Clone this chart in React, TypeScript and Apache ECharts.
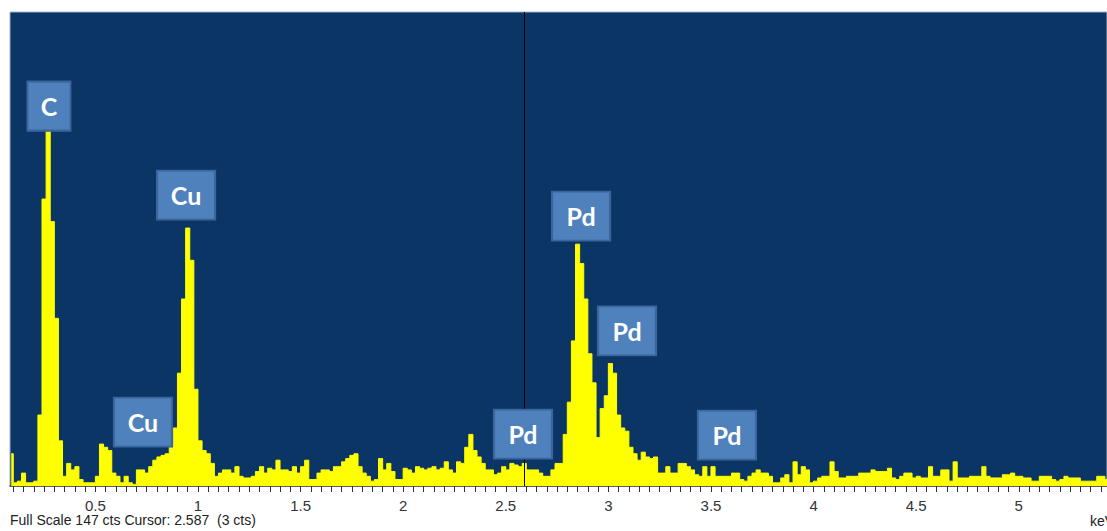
import React, { useEffect, useRef } from "react";
import * as echarts from "echarts";

// EDS spectrum: channel counts (cts), 0.02 keV channels starting at 0.09 keV
const ENERGY_START = 0.09;
const CHANNEL_WIDTH = 0.02;
const COUNTS = [
  10, 1, 1.5, 4, 1, 1, 1.5, 22, 89, 110,
  82, 52, 14, 3, 7, 5, 6, 2, 1, 1,
  1, 3, 13, 12, 11, 4, 3, 1, 3, 1,
  0.5, 5, 5, 4, 6, 8, 9, 9.5, 10, 12,
  18, 35, 58, 80, 70, 30, 14, 11, 10, 7,
  3, 4, 5, 5, 4, 6, 3, 2.5, 2.5, 3,
  4.5, 6, 4, 5.5, 5, 8, 5, 5, 4.5, 6,
  4, 6, 8, 2, 2, 4, 5, 5, 4.5, 6,
  6, 7.5, 8.5, 9.5, 10, 6, 4, 3, 1.5, 2,
  8.5, 5, 7, 4.5, 2, 2, 5.5, 5, 4, 6,
  5.5, 5, 5.5, 6, 5, 5.5, 7.5, 5, 4, 7.5,
  7, 12, 16, 11, 9, 7, 5, 5, 3.5, 4,
  6, 5, 7, 6.5, 6, 7, 5, 5, 5, 4,
  3, 3, 5, 7, 7, 16, 26, 45, 75, 69,
  58, 41, 32, 15, 24, 28, 38, 35, 22, 18,
  17, 12, 10, 8, 10.5, 9, 8.5, 9, 4, 4,
  6, 4, 4, 7, 7, 6, 5, 3.5, 3, 6,
  3, 6, 3, 3, 3, 3, 4, 4, 2, 1.5,
  3, 4, 5, 4, 4, 3, 1, 1, 2.5, 3.5,
  1, 7.5, 3.5, 6, 5, 1, 1.5, 2.5, 3, 3,
  7.5, 4.5, 2.5, 2.5, 3, 3, 3, 4, 4, 4,
  5, 4.5, 4.5, 4.5, 5.5, 2.5, 2, 3, 4, 4,
  2.5, 3, 2.5, 2.5, 6, 3, 3, 5, 5, 1.5,
  7.5, 2.5, 2.5, 2.5, 3, 3, 3, 6, 3, 2.5,
  2.5, 2.5, 3.5, 3.5, 4, 3, 3, 2.5, 2.5, 1.5,
  1.5, 3, 3, 3, 2, 1.5, 2, 3, 2.5, 2.5,
  2.5, 1.5, 1.5, 1.5, 1.5, 3, 3, 2,
];

// Element annotations: label, energy (keV), height (cts) of label box centre
const PEAK_LABELS = ["C", "Cu", "Cu", "Pd", "Pd", "Pd", "Pd"];
const PEAK_ENERGIES = [0.274, 0.942, 0.732, 2.584, 2.867, 3.091, 3.578];
const PEAK_HEIGHTS = [117.8, 90.2, 19.8, 16.1, 83.7, 48.1, 15.8];

const X_MIN = 0.084;
const X_MAX = 5.43;
const FULL_SCALE = 147;
const CURSOR_KEV = 2.587;
const CURSOR_CTS = 3;
const LABEL_VALUES = [0.5, 1, 1.5, 2, 2.5, 3, 3.5, 4, 4.5, 5];
const MINOR_TICK_STEP = 0.05;

export default function App() {
  const ref = useRef<HTMLDivElement>(null);

  useEffect(() => {
    if (!ref.current) return;
    const chart = echarts.init(ref.current, null, { renderer: "svg" });

    const data = COUNTS.map((c, i) => [
      +(ENERGY_START + i * CHANNEL_WIDTH).toFixed(3),
      c,
    ]);

    const tickValues: number[] = [];
    for (let k = Math.ceil(X_MIN / MINOR_TICK_STEP); k * MINOR_TICK_STEP <= X_MAX; k++) {
      tickValues.push(+(k * MINOR_TICK_STEP).toFixed(2));
    }

    const markData = PEAK_LABELS.map((name, i) => ({
      name,
      coord: [PEAK_ENERGIES[i], PEAK_HEIGHTS[i]],
      symbol: "rect",
      symbolSize: name === "C" ? [43, 49] : [58, 49],
    }));

    chart.setOption({
      animation: false,
      backgroundColor: "#ffffff",
      grid: {
        left: 10,
        right: 0,
        top: 12,
        bottom: 45,
        show: true,
        backgroundColor: "#0b3565",
        borderColor: "#9fb2c8",
        borderWidth: 1,
      },
      xAxis: {
        type: "value",
        min: X_MIN,
        max: X_MAX,
        splitLine: { show: false },
        axisLine: { show: true, onZero: false, lineStyle: { color: "#333333", width: 1.5 } },
        axisTick: {
          show: true,
          customValues: tickValues,
          length: 6,
          lineStyle: { color: "#333333", width: 1 },
        },
        axisLabel: {
          customValues: LABEL_VALUES,
          margin: 12,
          color: "#333333",
          fontFamily: "'Liberation Sans', Arial, sans-serif",
          fontSize: 15,
          formatter: (v: number) => String(+v.toFixed(2)),
        },
      },
      yAxis: {
        type: "value",
        min: 0,
        max: FULL_SCALE,
        show: false,
        splitLine: { show: false },
      },
      series: [
        {
          type: "line",
          data,
          step: "middle",
          showSymbol: false,
          symbol: "none",
          lineStyle: { color: "#ffff00", width: 1 },
          areaStyle: { color: "#ffff00", opacity: 1 },
          markLine: {
            silent: true,
            symbol: "none",
            label: { show: false },
            lineStyle: { color: "#000000", width: 1, type: "solid" },
            data: [{ xAxis: CURSOR_KEV }],
          },
          markPoint: {
            silent: true,
            itemStyle: {
              color: "#4f81bd",
              borderColor: "#3b669b",
              borderWidth: 2,
            },
            label: {
              show: true,
              position: "inside",
              formatter: (p: any) => p.name,
              color: "#ffffff",
              fontFamily: "Lato, 'Open Sans', sans-serif",
              fontWeight: "bold",
              fontSize: 25,
            },
            data: markData,
          },
        },
      ],
      graphic: [
        {
          type: "text",
          x: 10,
          y: 513,
          style: {
            text: `Full Scale ${FULL_SCALE} cts Cursor: ${CURSOR_KEV}  (${CURSOR_CTS} cts)`,
            fill: "#222222",
            font: "14px 'Liberation Sans', Arial, sans-serif",
          },
        },
        {
          type: "text",
          x: 1090,
          y: 514,
          style: {
            text: "keV",
            fill: "#222222",
            font: "14px 'Liberation Sans', Arial, sans-serif",
          },
        },
      ],
    });

    return () => chart.dispose();
  }, []);

  return (
    <div
      ref={ref}
      style={{
        position: "absolute",
        left: 0,
        top: 0,
        width: 1107,
        height: 531,
        background: "#ffffff",
      }}
    />
  );
}
